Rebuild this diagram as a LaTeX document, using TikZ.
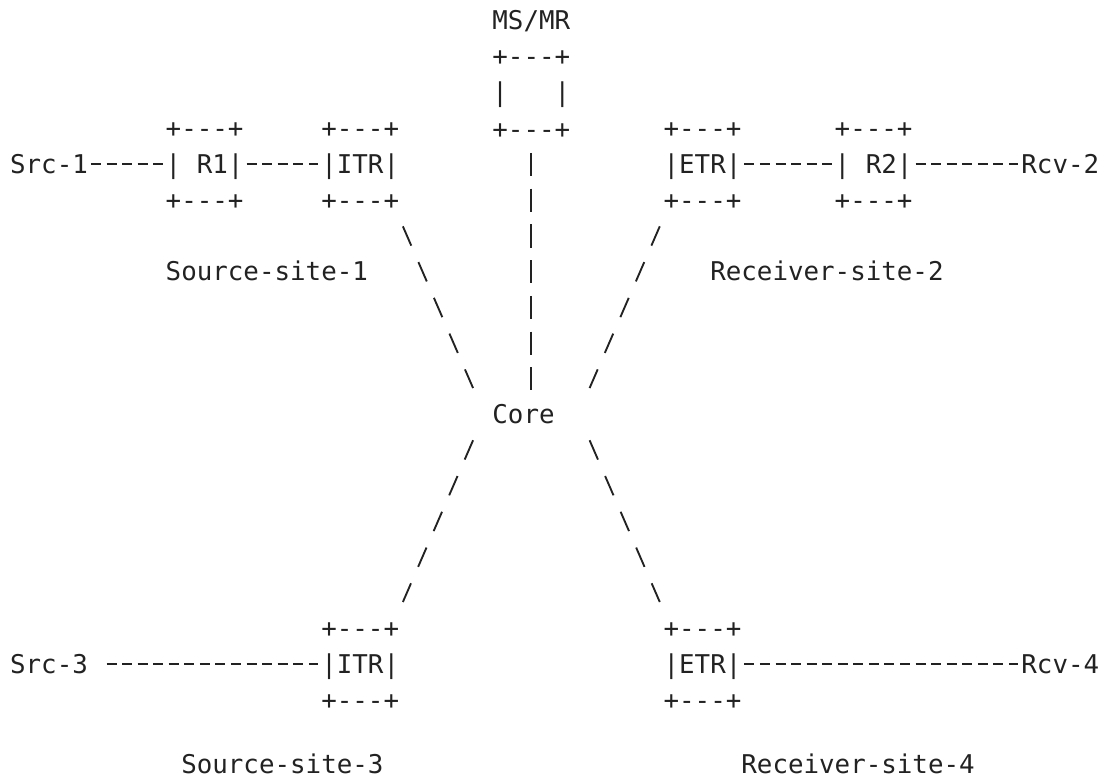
\documentclass[tikz,border=0pt]{standalone}
\usepackage{fontspec}
\setmonofont{DejaVu Sans Mono}
\usepackage{tikz}
\usetikzlibrary{positioning, calc}
\definecolor{ink}{HTML}{222222}

\begin{document}
\begin{tikzpicture}[
				x=11.67pt, y=-26.81pt,
				node distance=12.81pt,
				label distance=12.81pt,
				every node/.style={font=\ttfamily\fontsize{19.38pt}{26.81pt}\selectfont, text=ink, inner sep=0pt, text height=14pt, text depth=0pt},
				box/.style={label={[name=#1-t]above:+---+}, label={[name=#1-b]below:+---+}},
				hline/.style={ink, line width=1.4pt, dash pattern=on 7.5pt off 4.17pt, shorten <=2.085pt, shorten >=2.085pt},
				vline/.style={ink, line width=1.4pt, dash pattern=on 17.5pt off 9.31pt, shorten <=18.06pt, shorten >=18.06pt},
				dline/.style={ink, line width=1.4pt, dash pattern=on 15.8pt off 13.44pt, shorten <=21.34pt, shorten >=21.34pt}]

			\useasboundingbox (-1.15,-0.587) rectangle (70.0,21.26);

			\node[box=msmr] (msmr) at (33,2) {|~~~|};
			\node[above=of msmr-t] (msmr-name) {MS/MR};

			\node (src1) at (2,4) {Src-1};
			\node[box=r1] (r1) at (12,4) {|~R1|};
			\node[box=itr1] (itr1) at (22,4) {|ITR|};
			\node[box=etr2] (etr2) at (44,4) {|ETR|};
			\node[box=r2] (r2) at (55,4) {|~R2|};
			\node (rcv2) at (67,4) {Rcv-2};
			\node (site1) at (16,7) {Source-site-1};
			\node (site2) at (52,7) {Receiver-site-2};

			\node (core) at (32.5,11) {Core};
			\coordinate (core-l) at ($(core.west)-(0.5,0)$);
			\coordinate (core-r) at ($(core.east)+(1.5,0)$);

			\node (src3) at (2,18) {Src-3};
			\node[box=itr3] (itr3) at (22,18) {|ITR|};
			\node[box=etr4] (etr4) at (44,18) {|ETR|};
			\node (rcv4) at (67,18) {Rcv-4};
			\node (site3) at (17,20.8) {Source-site-3};
			\node (site4) at (54,20.8) {Receiver-site-4};

			\draw[hline] (src1) -- (r1);
			\draw[hline] (r1) -- (itr1);
			\draw[hline] (etr2) -- (r2);
			\draw[hline] (r2) -- (rcv2);
			\draw[hline, shorten <=13.755pt] (src3) -- (itr3);
			\draw[hline] (etr4) -- (rcv4);

			\draw[vline] (msmr-b.center) -- (msmr-b.center |- core.center);

			\draw[dline] ($(itr1-b.east)-(0.5,0)$) -- (core-l);
			\draw[dline] ($(etr2-b.west)+(0.5,0)$) -- (core-r);
			\draw[dline] (core-l) -- ($(itr3-t.east)-(0.5,0)$);
			\draw[dline] (core-r) -- ($(etr4-t.west)+(0.5,0)$);
		\end{tikzpicture}
\end{document}
